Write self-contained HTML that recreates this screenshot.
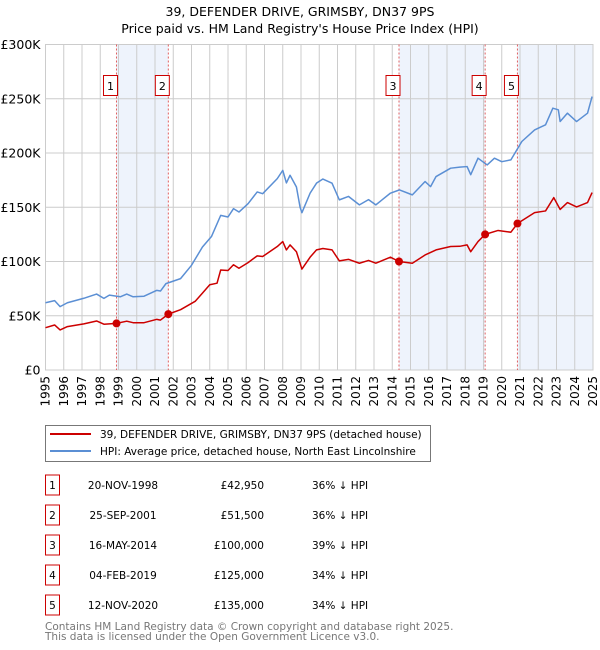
<!DOCTYPE html>
<html><head><meta charset="utf-8"><style>
body{margin:0;background:#fff;}
svg{display:block;font-family:"DejaVu Sans","Liberation Sans",sans-serif;}
</style></head><body>
<svg id="c" width="600" height="650" viewBox="0 0 600 650" xmlns="http://www.w3.org/2000/svg">
<text x="300" y="16" text-anchor="middle" font-size="12.5">39, DEFENDER DRIVE, GRIMSBY, DN37 9PS</text>
<text x="300" y="33" text-anchor="middle" font-size="12.5">Price paid vs. HM Land Registry's House Price Index (HPI)</text>
<g id="plot"></g>
<g>
<rect x="45.5" y="425.5" width="385" height="36" fill="#fff" stroke="#777"/>
<line x1="50" y1="434" x2="91" y2="434" stroke="#cc0000" stroke-width="2"/>
<text x="100" y="438" font-size="10.5">39, DEFENDER DRIVE, GRIMSBY, DN37 9PS (detached house)</text>
<line x1="50" y1="451" x2="91" y2="451" stroke="#5b8fd4" stroke-width="2"/>
<text x="100" y="455" font-size="10.5">HPI: Average price, detached house, North East Lincolnshire</text>
</g>
<g id="table" font-size="10.5"></g>
<text x="45" y="630" font-size="10.5" fill="#777">Contains HM Land Registry data © Crown copyright and database right 2025.</text>
<text x="45" y="640" font-size="10.5" fill="#777">This data is licensed under the Open Government Licence v3.0.</text>
</svg>
<script>
const yTicks=[0,50000,100000,150000,200000,250000,300000];
const yTickLabels=["£0","£50K","£100K","£150K","£200K","£250K","£300K"];
const years=[1995,1996,1997,1998,1999,2000,2001,2002,2003,2004,2005,2006,2007,2008,2009,2010,2011,2012,2013,2014,2015,2016,2017,2018,2019,2020,2021,2022,2023,2024,2025];
const hpiDates=[1995.0,1995.5,1995.8,1996.2,1997.1,1997.8,1998.2,1998.5,1999.1,1999.45,1999.8,2000.4,2001.1,2001.3,2001.6,2002.4,2003.0,2003.6,2004.1,2004.6,2005.0,2005.3,2005.6,2006.1,2006.6,2006.9,2007.7,2008.0,2008.2,2008.4,2008.75,2008.95,2009.05,2009.5,2009.85,2010.2,2010.7,2011.1,2011.6,2012.2,2012.7,2013.1,2013.9,2014.4,2015.1,2015.8,2016.1,2016.4,2017.2,2017.7,2018.1,2018.3,2018.7,2019.2,2019.6,2020.0,2020.5,2021.1,2021.8,2022.4,2022.8,2023.1,2023.2,2023.6,2024.1,2024.7,2024.95];
const hpiValues=[62000,63900,58400,62000,66100,70000,66000,69000,67500,70000,67500,68000,73400,72800,79600,84200,96500,113400,123200,142500,141000,148700,145600,153300,164100,162500,176400,184000,172400,179500,168700,150000,145000,163000,172200,176000,172200,156800,160000,152200,157000,152200,163000,166000,161400,173700,169000,178300,186000,187000,187500,180000,195200,189000,195200,192000,193700,210600,221300,226000,241300,239800,229000,236700,229000,236700,252000];
const priceDates=[1995.0,1995.5,1995.8,1996.2,1997.1,1997.8,1998.2,1998.89,1999.45,1999.8,2000.4,2001.1,2001.3,2001.73,2002.4,2003.2,2003.6,2004.0,2004.4,2004.6,2005.0,2005.3,2005.6,2006.1,2006.6,2006.9,2007.7,2008.0,2008.2,2008.4,2008.75,2008.95,2009.05,2009.5,2009.85,2010.2,2010.7,2011.1,2011.6,2012.2,2012.7,2013.1,2013.9,2014.37,2015.1,2015.8,2016.4,2017.2,2017.7,2018.1,2018.3,2018.7,2019.09,2019.8,2020.5,2020.86,2021.8,2022.4,2022.85,2023.2,2023.6,2024.1,2024.7,2024.95];
const priceValues=[39000,41500,36900,40000,42500,45200,42200,42950,45000,43600,43600,46700,46000,51500,55600,63300,70900,78600,80000,92200,91700,97000,93800,99000,105200,104600,113800,118400,110700,115300,109000,98400,93000,104000,110700,112000,110700,100600,102000,98400,101000,98400,104000,100000,98400,106000,110700,113800,114000,115300,109000,118400,125000,128600,127000,135000,145000,146600,158900,148000,154300,150300,154300,163500];
const saleLabels=["1","2","3","4","5"];
const saleDates=[1998.89,2001.73,2014.37,2019.09,2020.86];
const salePrices=[42950,51500,100000,125000,135000];
const saleDateText=["20-NOV-1998","25-SEP-2001","16-MAY-2014","04-FEB-2019","12-NOV-2020"];
const salePriceText=["£42,950","£51,500","£100,000","£125,000","£135,000"];
const salePctText=["36% ↓ HPI","36% ↓ HPI","39% ↓ HPI","34% ↓ HPI","34% ↓ HPI"];

const NS="http://www.w3.org/2000/svg";
const X0=45.5,X1=593,Y0=370,Y1=44.5,T0=1995,T1=2025,V1=300000;
const xs=t=>X0+(t-T0)/(T1-T0)*(X1-X0);
const ys=v=>Y0-v/V1*(Y0-Y1);
const plot=document.getElementById('plot');
function mk(tag,attrs,parent){const e=document.createElementNS(NS,tag);for(const k in attrs)e.setAttribute(k,attrs[k]);(parent||plot).appendChild(e);return e;}

const shadeRanges=[[0,1],[2,3],[4,-1]];
shadeRanges.forEach((r,i)=>{
  const a=xs(saleDates[r[0]]);const b=r[1]<0?X1:xs(saleDates[r[1]]);
  const s=mk('rect',{x:a,y:Y1,width:b-a,height:Y0-Y1,fill:'#eef3fc'});
  
  
});
years.forEach(y=>{
  const g=mk('line',{x1:xs(y),x2:xs(y),y1:Y1,y2:Y0,stroke:'#cccccc','stroke-width':1});
  
  
  const t=mk('text',{x:0,y:0,'font-size':12,'text-anchor':'end',transform:`translate(${xs(y)+4},${Y0+6}) rotate(-90)`});
  t.textContent=y;
  
  
});
yTicks.forEach((v,i)=>{
  const g=mk('line',{x1:X0,x2:X1,y1:ys(v),y2:ys(v),stroke:'#cccccc','stroke-width':1});
  
  
  const t=mk('text',{x:X0-5,y:ys(v)+4.5,'font-size':12.5,'text-anchor':'end'});
  t.textContent=yTickLabels[i];
  
  
});
const fr=mk('rect',{x:X0,y:Y1,width:X1-X0,height:Y0-Y1,fill:'none',stroke:'#cccccc'});


saleDates.forEach((d,i)=>{
  const l=mk('line',{x1:xs(d),x2:xs(d),y1:Y1,y2:Y0,stroke:'#e06060','stroke-width':1,'stroke-dasharray':'2,2'});
  
  
  const b=mk('rect',{x:xs(d)-13,y:75.5,width:14,height:20,fill:'#fff',stroke:'#cc0000'});
  
  
  const t=mk('text',{x:xs(d)-6,y:90,'font-size':11,'text-anchor':'middle'});
  t.textContent=saleLabels[i];
  
  
});
const hp=mk('polyline',{points:hpiDates.map((d,i)=>xs(d)+','+ys(hpiValues[i])).join(' '),fill:'none',stroke:'#5b8fd4','stroke-width':1.5,'stroke-linejoin':'round'});


const pp=mk('polyline',{points:priceDates.map((d,i)=>xs(d)+','+ys(priceValues[i])).join(' '),fill:'none',stroke:'#cc0000','stroke-width':1.5,'stroke-linejoin':'round'});


saleDates.forEach((d,i)=>{
  const c=mk('circle',{cx:xs(d),cy:ys(salePrices[i]),r:4,fill:'#cc0000'});
  
  
});
const tb=document.getElementById('table');
saleLabels.forEach((s,i)=>{
  const y=485+i*30;
  const b=mk('rect',{x:45.5,y:y-10,width:14,height:20,fill:'#fff',stroke:'#cc0000'},tb);
  
  
  const t1=mk('text',{x:52.5,y:y+4,'text-anchor':'middle'},tb);t1.textContent=s;
  
  
  const t2=mk('text',{x:123,y:y+4,'text-anchor':'middle'},tb);t2.textContent=saleDateText[i];
  
  
  const t3=mk('text',{x:264,y:y+4,'text-anchor':'end'},tb);t3.textContent=salePriceText[i];
  
  
  const t4=mk('text',{x:312,y:y+4},tb);t4.textContent=salePctText[i];
  
  
});
</script>
</body></html>
